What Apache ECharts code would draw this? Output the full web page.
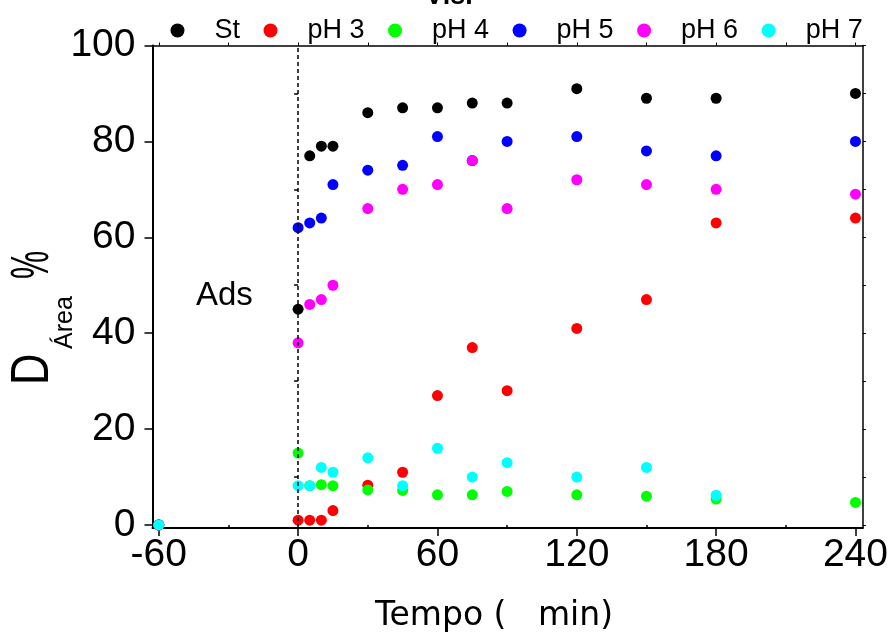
<!DOCTYPE html>
<html>
<head>
<meta charset="utf-8">
<script src="https://cdn.jsdelivr.net/npm/echarts@6/dist/echarts.min.js"></script>
<style>
  html, body { margin: 0; padding: 0; background: #ffffff; }
  #chart { width: 891px; height: 637px; }
</style>
</head>
<body>
<div id="chart"></div>
<script>
// Sampling times (min); -60 is the start of the adsorption step in the dark
const times = [-60, 0, 5, 10, 15, 30, 45, 60, 75, 90, 120, 150, 180, 240];

// Degradation by area, D_Área (%)
const seriesNames = ['St', 'pH 3', 'pH 4', 'pH 5', 'pH 6', 'pH 7'];
const valuesSt  = [0, 45, 77, 79, 79, 86, 87, 87, 88, 88, 91, 89, 89, 90];
const valuesPH3 = [0, 1, 1, 1, 3, 8.3, 11, 27, 37, 28, 41, 47, 63, 64];
const valuesPH4 = [0, 15, 8.2, 8.4, 8.2, 7.3, 7.2, 6.3, 6.3, 7.0, 6.3, 6.0, 5.4, 4.7];
const valuesPH5 = [0, 62, 63, 64, 71, 74, 75, 81, 76, 80, 81, 78, 77, 80];
const valuesPH6 = [0, 38, 46, 47, 50, 66, 70, 71, 76, 66, 72, 71, 70, 69];
const valuesPH7 = [0, 8.2, 8.2, 12, 11, 14, 8.2, 16, 10, 13, 10, 12, 6.2, null];
const seriesColors = ['#000000', '#ff0000', '#00ff00', '#0000ff', '#ff00ff', '#00ffff'];

// Tick positions
const xMajorTicks = [-60, 0, 60, 120, 180, 240];
const xMinorTicks = [-30, 30, 90, 150, 210];
const yMajorTicks = [0, 20, 40, 60, 80, 100];
const yMinorTicks = [10, 30, 50, 70, 90];

const allValues = [valuesSt, valuesPH3, valuesPH4, valuesPH5, valuesPH6, valuesPH7];

const X_MIN = -62.7, X_MAX = 243.2;
const Y_MIN = -0.63, Y_MAX = 100;

const chart = echarts.init(document.getElementById('chart'), null, { renderer: 'canvas' });

const tickFont = 'Liberation Sans, Arial, sans-serif';

function pairs(vals) {
  const out = [];
  for (let i = 0; i < times.length; i++) {
    if (vals[i] !== null && vals[i] !== undefined) out.push([times[i], vals[i]]);
  }
  return out;
}

const series = seriesNames.map(function (name, i) {
  const s = {
    name: name,
    type: 'scatter',
    xAxisIndex: 0,
    yAxisIndex: 0,
    symbol: 'circle',
    symbolSize: 11,
    clip: false,
    itemStyle: { color: seriesColors[i], opacity: 1 },
    emphasis: { disabled: true },
    data: pairs(allValues[i])
  };
  if (i === 0) {
    // start of irradiation at t = 0
    s.markLine = {
      silent: true,
      symbol: ['none', 'none'],
      label: { show: false },
      lineStyle: { color: '#000000', type: [4, 3], width: 1.5 },
      data: [{ xAxis: 0 }]
    };
  }
  return s;
});

function valueAxisBase(min, max) {
  return {
    type: 'value',
    min: min,
    max: max,
    splitLine: { show: false },
    axisLine: { show: false }
  };
}

const option = {
  animation: false,
  backgroundColor: '#ffffff',
  grid: { left: 152.5, right: 28, top: 45.5, bottom: 109, containLabel: false },
  legend: {
    data: seriesNames,
    left: 165.5,
    top: 12,
    icon: 'circle',
    itemWidth: 14,
    itemHeight: 14,
    itemGap: 23.5,
    selectedMode: false,
    formatter: '{t|{name}}',
    textStyle: {
      color: '#000000',
      rich: {
        t: { fontSize: 27, fontFamily: tickFont, color: '#000000', padding: [0, 0, 0, 25] }
      }
    }
  },
  xAxis: [
    Object.assign(valueAxisBase(X_MIN, X_MAX), {
      position: 'bottom',
      axisLine: { show: true, onZero: false, lineStyle: { color: '#000000', width: 2 } },
      axisTick: { show: true, customValues: xMajorTicks, length: 8, lineStyle: { color: '#000000', width: 1.5 } },
      axisLabel: { show: true, customValues: xMajorTicks, margin: 8, fontSize: 39, fontFamily: tickFont, color: '#000000' }
    }),
    Object.assign(valueAxisBase(X_MIN, X_MAX), {
      position: 'bottom',
      axisTick: { show: true, customValues: xMinorTicks, length: 4, lineStyle: { color: '#000000', width: 1.5 } },
      axisLabel: { show: false }
    }),
    Object.assign(valueAxisBase(X_MIN, X_MAX), {
      position: 'top',
      axisLine: { show: true, onZero: false, lineStyle: { color: '#000000', width: 1.5 } },
      axisTick: { show: true, customValues: xMajorTicks.concat(xMinorTicks), length: 3, lineStyle: { color: '#000000', width: 1 } },
      axisLabel: { show: false }
    })
  ],
  yAxis: [
    Object.assign(valueAxisBase(Y_MIN, Y_MAX), {
      position: 'left',
      axisLine: { show: true, onZero: false, lineStyle: { color: '#000000', width: 2 } },
      axisTick: { show: true, customValues: yMajorTicks, length: 8, lineStyle: { color: '#000000', width: 1.5 } },
      axisLabel: { show: true, customValues: yMajorTicks, margin: 17, fontSize: 39, fontFamily: tickFont, color: '#000000', padding: [0, 0, 9, 0] }
    }),
    Object.assign(valueAxisBase(Y_MIN, Y_MAX), {
      position: 'left',
      axisTick: { show: true, customValues: yMinorTicks, length: 4, lineStyle: { color: '#000000', width: 1.5 } },
      axisLabel: { show: false }
    }),
    Object.assign(valueAxisBase(Y_MIN, Y_MAX), {
      position: 'right',
      axisLine: { show: true, onZero: false, lineStyle: { color: '#000000', width: 1.5 } },
      axisTick: { show: true, customValues: yMajorTicks.concat(yMinorTicks), length: 3, lineStyle: { color: '#000000', width: 1 } },
      axisLabel: { show: false }
    })
  ],
  graphic: [
    // panel title, partly above the top edge
    {
      type: 'text', x: 449, y: -3, silent: true,
      style: { text: 'Vis.', fontSize: 27, fontWeight: 'bold', fontFamily: tickFont, fill: '#000000',
               textAlign: 'center', textVerticalAlign: 'middle', verticalAlign: 'middle' }
    },
    // adsorption period label
    {
      type: 'text', x: 196, y: 296, silent: true,
      style: { text: 'Ads', fontSize: 33, fontFamily: tickFont, fill: '#000000',
               textAlign: 'left', textVerticalAlign: 'middle', verticalAlign: 'middle' }
    },
    // x-axis title
    {
      type: 'text', x: 494, y: 616, silent: true,
      style: { text: 'Tempo (   min)', fontSize: 33, fontFamily: 'DejaVu Sans, sans-serif', fill: '#000000',
               textAlign: 'center', textVerticalAlign: 'middle', verticalAlign: 'middle' }
    },
    // y-axis title: D with subscript Área, then %
    {
      type: 'text', x: 33, y: 385, rotation: Math.PI / 2, scaleX: 0.82, silent: true,
      style: { text: 'D', fontSize: 53, fontFamily: tickFont, fill: '#000000',
               textAlign: 'left', textVerticalAlign: 'middle', verticalAlign: 'middle' }
    },
    {
      type: 'text', x: 65, y: 349, rotation: Math.PI / 2, silent: true,
      style: { text: 'Área', fontSize: 25, fontFamily: tickFont, fill: '#000000',
               textAlign: 'left', textVerticalAlign: 'middle', verticalAlign: 'middle' }
    },
    {
      type: 'text', x: 33, y: 279, rotation: Math.PI / 2, scaleX: 0.6, silent: true,
      style: { text: '%', fontSize: 53, fontFamily: tickFont, fill: '#000000',
               textAlign: 'left', textVerticalAlign: 'middle', verticalAlign: 'middle' }
    }
  ],
  series: series
};

chart.setOption(option);
</script>
</body>
</html>
